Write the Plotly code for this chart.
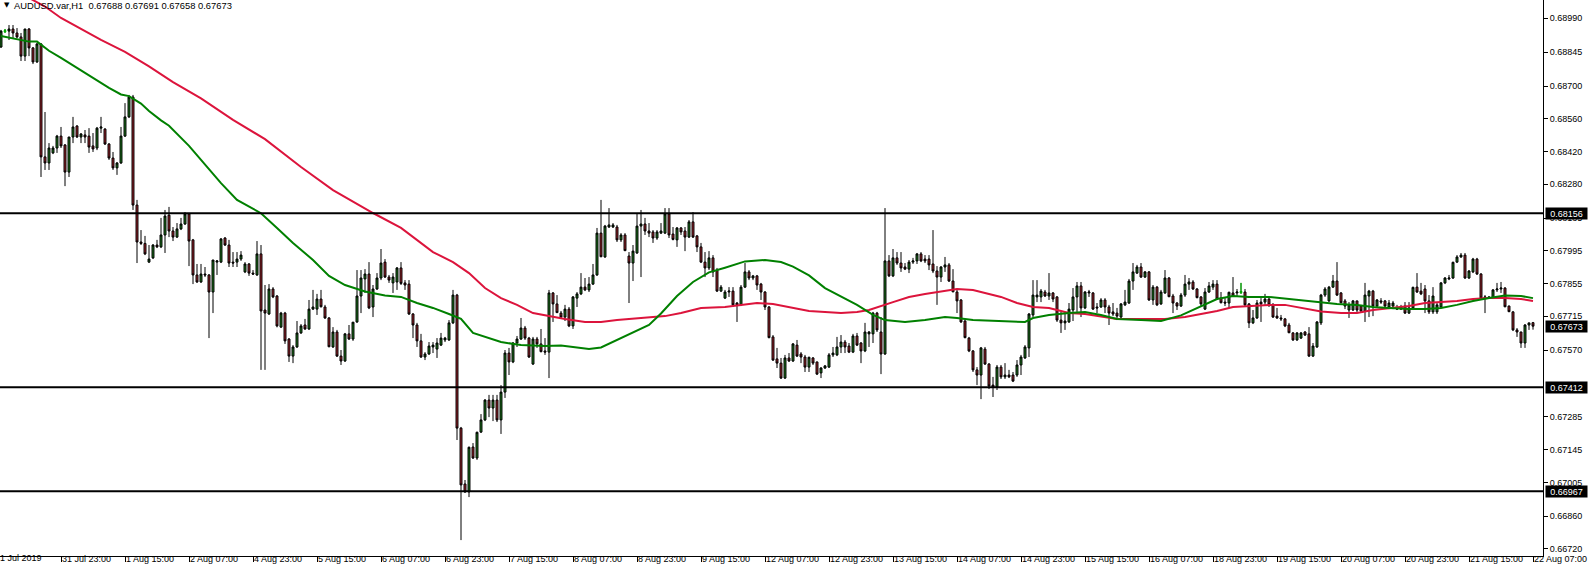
import plotly.graph_objects as go

symbol = "AUDUSD.var,H1"

opens = [
    0.68880, 0.68867, 0.68935, 0.68935, 0.68944, 0.68927, 0.68910, 0.68828, 0.68944, 0.68863,
    0.68803, 0.68880, 0.68397, 0.68371, 0.68414, 0.68435, 0.68486, 0.68448, 0.68332, 0.68482,
    0.68529, 0.68482, 0.68491, 0.68486, 0.68444, 0.68435, 0.68520, 0.68516, 0.68452, 0.68392,
    0.68350, 0.68371, 0.68486, 0.68568, 0.68653, 0.68191, 0.68033, 0.68027, 0.67947, 0.67965,
    0.68020, 0.68012, 0.68063, 0.68148, 0.68080, 0.68054, 0.68089, 0.68110, 0.68153, 0.68042,
    0.67892, 0.67862, 0.67896, 0.67892, 0.67819, 0.67947, 0.67947, 0.68050, 0.68020, 0.67947,
    0.67947, 0.67960, 0.67905, 0.67939, 0.67900, 0.67892, 0.67982, 0.67742, 0.67725, 0.67832,
    0.67802, 0.67669, 0.67729, 0.67618, 0.67545, 0.67584, 0.67644, 0.67678, 0.67661, 0.67746,
    0.67746, 0.67789, 0.67755, 0.67708, 0.67584, 0.67648, 0.67545, 0.67524, 0.67640, 0.67618,
    0.67691, 0.67802, 0.67875, 0.67896, 0.67755, 0.67832, 0.67879, 0.67947, 0.67883, 0.67858,
    0.67862, 0.67922, 0.67858, 0.67853, 0.67725, 0.67678, 0.67610, 0.67541, 0.67554, 0.67584,
    0.67575, 0.67592, 0.67614, 0.67614, 0.67687, 0.67806, 0.67237, 0.66998, 0.66964, 0.67156,
    0.67109, 0.67220, 0.67272, 0.67357, 0.67323, 0.67357, 0.67272, 0.67391, 0.67558, 0.67520,
    0.67601, 0.67618, 0.67665, 0.67622, 0.67511, 0.67618, 0.67597, 0.67567, 0.67562, 0.67815,
    0.67768, 0.67729, 0.67712, 0.67746, 0.67674, 0.67793, 0.67811, 0.67840, 0.67828, 0.67853,
    0.67892, 0.68071, 0.67969, 0.68097, 0.68097, 0.68097, 0.68042, 0.68063, 0.67973, 0.67943,
    0.67986, 0.68101, 0.68110, 0.68080, 0.68076, 0.68050, 0.68071, 0.68071, 0.68153, 0.68067,
    0.68042, 0.68093, 0.68080, 0.68054, 0.68119, 0.68059, 0.68012, 0.67947, 0.67922, 0.67965,
    0.67913, 0.67823, 0.67793, 0.67819, 0.67823, 0.67772, 0.67764, 0.67840, 0.67905, 0.67879,
    0.67888, 0.67853, 0.67819, 0.67755, 0.67627, 0.67533, 0.67515, 0.67451, 0.67537, 0.67524,
    0.67592, 0.67554, 0.67541, 0.67498, 0.67537, 0.67520, 0.67473, 0.67494, 0.67498, 0.67550,
    0.67550, 0.67584, 0.67605, 0.67588, 0.67562, 0.67631, 0.67601, 0.67567, 0.67640, 0.67640,
    0.67729, 0.67648, 0.67554, 0.67952, 0.67888, 0.67965, 0.67943, 0.67926, 0.67917, 0.67947,
    0.67952, 0.67982, 0.67960, 0.67960, 0.67939, 0.67909, 0.67883, 0.67926, 0.67935, 0.67866,
    0.67819, 0.67785, 0.67695, 0.67622, 0.67567, 0.67486, 0.67464, 0.67575, 0.67511, 0.67421,
    0.67413, 0.67498, 0.67456, 0.67464, 0.67464, 0.67464, 0.67507, 0.67537, 0.67580, 0.67721,
    0.67798, 0.67798, 0.67819, 0.67802, 0.67815, 0.67798, 0.67699, 0.67687, 0.67691, 0.67742,
    0.67798, 0.67845, 0.67751, 0.67815, 0.67815, 0.67755, 0.67755, 0.67785, 0.67755, 0.67734,
    0.67729, 0.67712, 0.67764, 0.67772, 0.67866, 0.67900, 0.67926, 0.67883, 0.67905, 0.67785,
    0.67840, 0.67768, 0.67815, 0.67879, 0.67802, 0.67772, 0.67759, 0.67806, 0.67853, 0.67862,
    0.67832, 0.67798, 0.67746, 0.67819, 0.67840, 0.67853, 0.67793, 0.67776, 0.67772, 0.67815,
    0.67815, 0.67819, 0.67819, 0.67768, 0.67687, 0.67708, 0.67776, 0.67776, 0.67789, 0.67764,
    0.67716, 0.67708, 0.67704, 0.67678, 0.67644, 0.67614, 0.67622, 0.67648, 0.67640, 0.67545,
    0.67584, 0.67687, 0.67806, 0.67781, 0.67840, 0.67866, 0.67815, 0.67781, 0.67742, 0.67742,
    0.67781, 0.67759, 0.67738, 0.67802, 0.67823, 0.67759, 0.67781, 0.67781, 0.67755, 0.67759,
    0.67751, 0.67755, 0.67759, 0.67729, 0.67751, 0.67840, 0.67823, 0.67832, 0.67781, 0.67734,
    0.67734, 0.67755, 0.67858, 0.67875, 0.67879, 0.67947, 0.67969, 0.67977, 0.67879, 0.67905,
    0.67960, 0.67896, 0.67793, 0.67798, 0.67793, 0.67828, 0.67832, 0.67836, 0.67759, 0.67734,
    0.67657, 0.67648, 0.67601, 0.67678, 0.67688,
]

highs = [
    0.68940, 0.68940, 0.68944, 0.68961, 0.68961, 0.68948, 0.68927, 0.68944, 0.68948, 0.68867,
    0.68884, 0.68884, 0.68589, 0.68456, 0.68444, 0.68491, 0.68525, 0.68452, 0.68482, 0.68568,
    0.68533, 0.68499, 0.68512, 0.68520, 0.68499, 0.68525, 0.68568, 0.68520, 0.68456, 0.68418,
    0.68375, 0.68525, 0.68627, 0.68662, 0.68662, 0.68213, 0.68084, 0.68059, 0.68020, 0.68024,
    0.68042, 0.68136, 0.68170, 0.68183, 0.68097, 0.68114, 0.68136, 0.68161, 0.68157, 0.68046,
    0.67939, 0.67939, 0.67926, 0.67896, 0.67956, 0.67956, 0.68050, 0.68054, 0.68042, 0.67990,
    0.67990, 0.67994, 0.67947, 0.67943, 0.67913, 0.68037, 0.68020, 0.67849, 0.67853, 0.67840,
    0.67806, 0.67734, 0.67734, 0.67622, 0.67592, 0.67695, 0.67682, 0.67704, 0.67785, 0.67828,
    0.67811, 0.67828, 0.67764, 0.67712, 0.67669, 0.67657, 0.67571, 0.67644, 0.67678, 0.67691,
    0.67913, 0.67913, 0.67917, 0.67947, 0.67849, 0.67900, 0.68003, 0.67960, 0.67892, 0.67900,
    0.67926, 0.67947, 0.67870, 0.67870, 0.67729, 0.67687, 0.67640, 0.67562, 0.67605, 0.67605,
    0.67622, 0.67644, 0.67627, 0.67699, 0.67828, 0.67811, 0.67242, 0.67015, 0.67158, 0.67173,
    0.67222, 0.67297, 0.67361, 0.67379, 0.67379, 0.67379, 0.67421, 0.67571, 0.67580, 0.67605,
    0.67631, 0.67708, 0.67674, 0.67627, 0.67627, 0.67627, 0.67661, 0.67622, 0.67828, 0.67819,
    0.67806, 0.67738, 0.67764, 0.67755, 0.67802, 0.67819, 0.67900, 0.67879, 0.67883, 0.67939,
    0.68093, 0.68213, 0.68106, 0.68178, 0.68114, 0.68106, 0.68071, 0.68071, 0.67990, 0.68020,
    0.68157, 0.68170, 0.68136, 0.68114, 0.68084, 0.68084, 0.68114, 0.68178, 0.68178, 0.68097,
    0.68097, 0.68097, 0.68097, 0.68127, 0.68161, 0.68063, 0.68029, 0.67990, 0.67994, 0.67977,
    0.67922, 0.67849, 0.67828, 0.67840, 0.67840, 0.67776, 0.67849, 0.67943, 0.67913, 0.67892,
    0.67892, 0.67858, 0.67823, 0.67759, 0.67635, 0.67580, 0.67537, 0.67550, 0.67558, 0.67601,
    0.67614, 0.67562, 0.67550, 0.67542, 0.67541, 0.67521, 0.67498, 0.67507, 0.67558, 0.67584,
    0.67627, 0.67635, 0.67614, 0.67601, 0.67640, 0.67644, 0.67605, 0.67687, 0.67652, 0.67734,
    0.67734, 0.67712, 0.68178, 0.67977, 0.68003, 0.67990, 0.67990, 0.67943, 0.67956, 0.67965,
    0.67986, 0.67990, 0.67977, 0.67977, 0.68084, 0.67930, 0.67930, 0.67969, 0.67943, 0.67917,
    0.67832, 0.67789, 0.67699, 0.67627, 0.67571, 0.67498, 0.67584, 0.67584, 0.67515, 0.67456,
    0.67507, 0.67507, 0.67515, 0.67486, 0.67477, 0.67528, 0.67550, 0.67592, 0.67729, 0.67870,
    0.67870, 0.67832, 0.67828, 0.67900, 0.67819, 0.67802, 0.67734, 0.67734, 0.67772, 0.67836,
    0.67862, 0.67862, 0.67823, 0.67828, 0.67819, 0.67772, 0.67793, 0.67793, 0.67764, 0.67772,
    0.67751, 0.67772, 0.67828, 0.67875, 0.67943, 0.67935, 0.67943, 0.67909, 0.67909, 0.67849,
    0.67845, 0.67828, 0.67913, 0.67883, 0.67811, 0.67776, 0.67815, 0.67892, 0.67879, 0.67870,
    0.67836, 0.67802, 0.67836, 0.67862, 0.67870, 0.67870, 0.67819, 0.67793, 0.67820, 0.67883,
    0.67832, 0.67858, 0.67832, 0.67772, 0.67742, 0.67785, 0.67793, 0.67811, 0.67793, 0.67772,
    0.67751, 0.67721, 0.67708, 0.67687, 0.67648, 0.67648, 0.67648, 0.67652, 0.67669, 0.67601,
    0.67695, 0.67811, 0.67840, 0.67845, 0.67892, 0.67947, 0.67819, 0.67789, 0.67776, 0.67785,
    0.67782, 0.67764, 0.67858, 0.67828, 0.67828, 0.67789, 0.67793, 0.67785, 0.67785, 0.67781,
    0.67764, 0.67764, 0.67776, 0.67776, 0.67842, 0.67900, 0.67858, 0.67849, 0.67806, 0.67840,
    0.67776, 0.67862, 0.67883, 0.67892, 0.67949, 0.67977, 0.67986, 0.67986, 0.67913, 0.67965,
    0.67965, 0.67900, 0.67806, 0.67802, 0.67832, 0.67858, 0.67862, 0.67840, 0.67761, 0.67738,
    0.67665, 0.67649, 0.67682, 0.67688, 0.67691,
]

lows = [
    0.68863, 0.68863, 0.68927, 0.68897, 0.68905, 0.68905, 0.68807, 0.68807, 0.68828, 0.68794,
    0.68799, 0.68311, 0.68341, 0.68341, 0.68409, 0.68414, 0.68435, 0.68272, 0.68311, 0.68456,
    0.68478, 0.68456, 0.68456, 0.68414, 0.68418, 0.68426, 0.68499, 0.68448, 0.68384, 0.68341,
    0.68320, 0.68367, 0.68482, 0.68563, 0.68170, 0.67943, 0.68020, 0.67977, 0.67943, 0.67960,
    0.68007, 0.68007, 0.67986, 0.68054, 0.68037, 0.68050, 0.68084, 0.68106, 0.67930, 0.67853,
    0.67858, 0.67858, 0.67883, 0.67622, 0.67729, 0.67892, 0.67943, 0.68016, 0.67926, 0.67926,
    0.67926, 0.67952, 0.67900, 0.67888, 0.67892, 0.67888, 0.67486, 0.67486, 0.67721, 0.67793,
    0.67668, 0.67665, 0.67597, 0.67520, 0.67515, 0.67580, 0.67640, 0.67657, 0.67657, 0.67742,
    0.67721, 0.67753, 0.67704, 0.67583, 0.67580, 0.67541, 0.67507, 0.67520, 0.67614, 0.67610,
    0.67687, 0.67729, 0.67815, 0.67746, 0.67712, 0.67828, 0.67870, 0.67879, 0.67858, 0.67815,
    0.67828, 0.67849, 0.67828, 0.67721, 0.67622, 0.67584, 0.67537, 0.67528, 0.67550, 0.67558,
    0.67537, 0.67588, 0.67605, 0.67610, 0.67682, 0.67186, 0.66758, 0.66960, 0.66942, 0.67105,
    0.67101, 0.67216, 0.67267, 0.67284, 0.67267, 0.67263, 0.67212, 0.67366, 0.67464, 0.67515,
    0.67584, 0.67614, 0.67614, 0.67537, 0.67507, 0.67580, 0.67561, 0.67550, 0.67451, 0.67691,
    0.67729, 0.67708, 0.67695, 0.67669, 0.67661, 0.67755, 0.67806, 0.67823, 0.67819, 0.67849,
    0.67888, 0.67968, 0.67965, 0.68093, 0.68093, 0.68033, 0.68033, 0.67994, 0.67772, 0.67866,
    0.67982, 0.67883, 0.68063, 0.68054, 0.68029, 0.68042, 0.68067, 0.68067, 0.68050, 0.68040,
    0.68012, 0.68063, 0.67994, 0.68050, 0.68050, 0.67990, 0.67943, 0.67883, 0.67913, 0.67883,
    0.67819, 0.67819, 0.67789, 0.67798, 0.67755, 0.67691, 0.67759, 0.67836, 0.67870, 0.67870,
    0.67828, 0.67785, 0.67742, 0.67621, 0.67524, 0.67494, 0.67447, 0.67447, 0.67520, 0.67520,
    0.67541, 0.67515, 0.67477, 0.67477, 0.67507, 0.67464, 0.67451, 0.67490, 0.67494, 0.67541,
    0.67545, 0.67558, 0.67558, 0.67558, 0.67558, 0.67588, 0.67515, 0.67562, 0.67584, 0.67601,
    0.67648, 0.67468, 0.67550, 0.67883, 0.67883, 0.67935, 0.67905, 0.67913, 0.67900, 0.67939,
    0.67939, 0.67947, 0.67943, 0.67913, 0.67900, 0.67764, 0.67862, 0.67905, 0.67862, 0.67818,
    0.67729, 0.67687, 0.67621, 0.67562, 0.67477, 0.67421, 0.67361, 0.67507, 0.67404, 0.67370,
    0.67400, 0.67447, 0.67447, 0.67451, 0.67434, 0.67456, 0.67464, 0.67533, 0.67541, 0.67712,
    0.67776, 0.67776, 0.67798, 0.67785, 0.67776, 0.67691, 0.67644, 0.67657, 0.67687, 0.67695,
    0.67734, 0.67712, 0.67746, 0.67798, 0.67742, 0.67729, 0.67751, 0.67729, 0.67678, 0.67716,
    0.67699, 0.67708, 0.67759, 0.67768, 0.67828, 0.67896, 0.67879, 0.67879, 0.67781, 0.67764,
    0.67759, 0.67764, 0.67811, 0.67797, 0.67729, 0.67742, 0.67755, 0.67798, 0.67828, 0.67828,
    0.67792, 0.67755, 0.67742, 0.67815, 0.67828, 0.67785, 0.67771, 0.67759, 0.67751, 0.67798,
    0.67798, 0.67811, 0.67755, 0.67665, 0.67682, 0.67704, 0.67691, 0.67764, 0.67755, 0.67708,
    0.67704, 0.67695, 0.67669, 0.67643, 0.67610, 0.67610, 0.67618, 0.67631, 0.67541, 0.67541,
    0.67580, 0.67678, 0.67798, 0.67776, 0.67836, 0.67802, 0.67771, 0.67746, 0.67708, 0.67738,
    0.67729, 0.67734, 0.67691, 0.67712, 0.67716, 0.67751, 0.67768, 0.67755, 0.67746, 0.67746,
    0.67742, 0.67742, 0.67725, 0.67725, 0.67742, 0.67815, 0.67806, 0.67729, 0.67725, 0.67725,
    0.67725, 0.67751, 0.67853, 0.67870, 0.67875, 0.67943, 0.67965, 0.67875, 0.67875, 0.67900,
    0.67892, 0.67789, 0.67729, 0.67789, 0.67789, 0.67819, 0.67815, 0.67754, 0.67733, 0.67652,
    0.67627, 0.67580, 0.67580, 0.67657, 0.67658,
]

closes = [
    0.68867, 0.68935, 0.68935, 0.68944, 0.68927, 0.68910, 0.68828, 0.68944, 0.68863, 0.68803,
    0.68880, 0.68397, 0.68371, 0.68435, 0.68435, 0.68486, 0.68444, 0.68332, 0.68482, 0.68525,
    0.68482, 0.68495, 0.68482, 0.68439, 0.68431, 0.68520, 0.68525, 0.68452, 0.68392, 0.68350,
    0.68371, 0.68486, 0.68568, 0.68653, 0.68191, 0.68033, 0.68027, 0.67982, 0.67960, 0.68020,
    0.68012, 0.68063, 0.68144, 0.68080, 0.68054, 0.68089, 0.68110, 0.68153, 0.68037, 0.67892,
    0.67862, 0.67896, 0.67892, 0.67819, 0.67956, 0.67952, 0.68046, 0.68020, 0.67943, 0.67943,
    0.67960, 0.67977, 0.67939, 0.67900, 0.67896, 0.67982, 0.67738, 0.67729, 0.67832, 0.67798,
    0.67674, 0.67729, 0.67610, 0.67545, 0.67584, 0.67644, 0.67674, 0.67661, 0.67746, 0.67755,
    0.67789, 0.67756, 0.67708, 0.67585, 0.67648, 0.67545, 0.67524, 0.67640, 0.67618, 0.67690,
    0.67802, 0.67879, 0.67896, 0.67751, 0.67832, 0.67879, 0.67943, 0.67883, 0.67870, 0.67883,
    0.67922, 0.67856, 0.67849, 0.67725, 0.67678, 0.67610, 0.67541, 0.67554, 0.67588, 0.67592,
    0.67601, 0.67622, 0.67622, 0.67687, 0.67806, 0.67237, 0.66994, 0.66964, 0.67155, 0.67109,
    0.67219, 0.67272, 0.67357, 0.67323, 0.67357, 0.67272, 0.67391, 0.67558, 0.67520, 0.67601,
    0.67618, 0.67665, 0.67622, 0.67541, 0.67618, 0.67597, 0.67564, 0.67562, 0.67815, 0.67768,
    0.67731, 0.67712, 0.67746, 0.67674, 0.67798, 0.67811, 0.67840, 0.67828, 0.67853, 0.67892,
    0.68071, 0.67970, 0.68101, 0.68106, 0.68106, 0.68042, 0.68063, 0.67996, 0.67943, 0.67994,
    0.68101, 0.68110, 0.68080, 0.68071, 0.68050, 0.68076, 0.68080, 0.68153, 0.68063, 0.68044,
    0.68093, 0.68076, 0.68054, 0.68119, 0.68054, 0.68012, 0.67947, 0.67922, 0.67965, 0.67905,
    0.67823, 0.67840, 0.67819, 0.67823, 0.67764, 0.67764, 0.67840, 0.67905, 0.67879, 0.67888,
    0.67849, 0.67819, 0.67755, 0.67624, 0.67528, 0.67515, 0.67451, 0.67537, 0.67524, 0.67597,
    0.67545, 0.67541, 0.67498, 0.67540, 0.67515, 0.67468, 0.67494, 0.67503, 0.67550, 0.67558,
    0.67584, 0.67605, 0.67584, 0.67562, 0.67631, 0.67592, 0.67567, 0.67648, 0.67648, 0.67729,
    0.67657, 0.67554, 0.67952, 0.67888, 0.67965, 0.67943, 0.67922, 0.67917, 0.67947, 0.67952,
    0.67982, 0.67952, 0.67952, 0.67935, 0.67909, 0.67883, 0.67926, 0.67935, 0.67866, 0.67820,
    0.67781, 0.67691, 0.67624, 0.67567, 0.67486, 0.67464, 0.67580, 0.67511, 0.67417, 0.67413,
    0.67498, 0.67456, 0.67464, 0.67456, 0.67438, 0.67507, 0.67541, 0.67584, 0.67725, 0.67806,
    0.67806, 0.67823, 0.67802, 0.67815, 0.67789, 0.67699, 0.67687, 0.67695, 0.67746, 0.67798,
    0.67845, 0.67751, 0.67819, 0.67819, 0.67746, 0.67751, 0.67785, 0.67755, 0.67729, 0.67725,
    0.67716, 0.67768, 0.67776, 0.67866, 0.67905, 0.67926, 0.67883, 0.67905, 0.67785, 0.67840,
    0.67764, 0.67819, 0.67879, 0.67799, 0.67772, 0.67759, 0.67806, 0.67853, 0.67862, 0.67832,
    0.67795, 0.67768, 0.67819, 0.67845, 0.67853, 0.67789, 0.67773, 0.67772, 0.67818, 0.67802,
    0.67819, 0.67819, 0.67764, 0.67687, 0.67708, 0.67772, 0.67768, 0.67789, 0.67764, 0.67712,
    0.67708, 0.67704, 0.67674, 0.67645, 0.67614, 0.67644, 0.67644, 0.67635, 0.67545, 0.67588,
    0.67691, 0.67806, 0.67832, 0.67840, 0.67866, 0.67806, 0.67773, 0.67759, 0.67764, 0.67781,
    0.67742, 0.67738, 0.67806, 0.67823, 0.67759, 0.67785, 0.67776, 0.67759, 0.67772, 0.67772,
    0.67746, 0.67746, 0.67729, 0.67751, 0.67839, 0.67819, 0.67811, 0.67781, 0.67734, 0.67802,
    0.67764, 0.67858, 0.67879, 0.67879, 0.67946, 0.67969, 0.67977, 0.67879, 0.67909, 0.67960,
    0.67896, 0.67793, 0.67798, 0.67793, 0.67828, 0.67832, 0.67836, 0.67756, 0.67735, 0.67657,
    0.67648, 0.67601, 0.67678, 0.67687, 0.67673,
]

tick_labels = [
    "31 Jul 2019", "31 Jul 23:00", "1 Aug 15:00", "2 Aug 07:00", "4 Aug 23:00",
    "5 Aug 15:00", "6 Aug 07:00", "6 Aug 23:00", "7 Aug 15:00", "8 Aug 07:00",
    "8 Aug 23:00", "9 Aug 15:00", "12 Aug 07:00", "12 Aug 23:00", "13 Aug 15:00",
    "14 Aug 07:00", "14 Aug 23:00", "15 Aug 15:00", "16 Aug 07:00", "18 Aug 23:00",
    "19 Aug 15:00", "20 Aug 07:00", "20 Aug 23:00", "21 Aug 15:00", "22 Aug 07:00",
]
tick_step = 16

# green (fast) moving average, read at selected bars
ma_fast_bars = [1, 5, 8, 10, 12, 13, 16, 21, 23, 28, 31, 33, 36, 38, 41, 43, 48, 52, 56, 60,
                62, 66, 70, 74, 79, 83, 87, 92, 97, 101, 105, 109, 113, 116, 119, 123, 126, 131, 137, 141,
                145, 148, 151, 155, 159, 163, 166, 170, 174, 178, 182, 187, 192, 196, 199, 203, 207, 211, 215, 219,
                222, 227, 232, 237, 240, 244, 251, 257, 259, 263, 268, 272, 276, 280, 286, 291, 296, 301, 305, 309,
                313, 318, 322, 326, 330, 335, 340, 344, 348, 353, 357, 361, 365, 369, 373, 377, 381, 384]
ma_fast_vals = [0.68914, 0.68901, 0.68890, 0.68890, 0.68865, 0.68851, 0.68820, 0.68766, 0.68743, 0.68692,
                0.68664, 0.68657, 0.68625, 0.68593, 0.68553, 0.68530, 0.68444, 0.68364, 0.68285, 0.68213,
                0.68193, 0.68156, 0.68093, 0.68029, 0.67956, 0.67888, 0.67849, 0.67821, 0.67804, 0.67798,
                0.67772, 0.67751, 0.67725, 0.67704, 0.67644, 0.67622, 0.67605, 0.67592, 0.67588, 0.67590,
                0.67582, 0.67575, 0.67582, 0.67614, 0.67648, 0.67678, 0.67727, 0.67802, 0.67862, 0.67903,
                0.67923, 0.67950, 0.67956, 0.67947, 0.67928, 0.67890, 0.67836, 0.67800, 0.67764, 0.67721,
                0.67699, 0.67691, 0.67699, 0.67712, 0.67708, 0.67699, 0.67695, 0.67691, 0.67708, 0.67721,
                0.67729, 0.67734, 0.67721, 0.67704, 0.67699, 0.67695, 0.67719, 0.67757, 0.67789, 0.67802,
                0.67798, 0.67798, 0.67791, 0.67781, 0.67774, 0.67768, 0.67764, 0.67755, 0.67751, 0.67746,
                0.67746, 0.67751, 0.67764, 0.67781, 0.67793, 0.67804, 0.67802, 0.67793]

# red (slow) moving average, read at selected bars
ma_slow_bars = [8, 12, 16, 21, 26, 32, 38, 44, 51, 59, 67, 76, 84, 94, 101, 109, 114, 118, 122, 126,
                130, 134, 138, 142, 147, 151, 155, 159, 163, 167, 171, 176, 182, 190, 194, 198, 203, 207, 211, 215,
                218, 224, 228, 232, 236, 240, 244, 248, 251, 255, 259, 263, 268, 272, 276, 280, 284, 288, 292, 297,
                301, 305, 309, 313, 318, 322, 326, 331, 336, 340, 344, 348, 353, 357, 361, 365, 369, 373, 377, 381,
                384]
ma_slow_vals = [0.69077, 0.69040, 0.68991, 0.68944, 0.68897, 0.68846, 0.68784, 0.68717, 0.68647, 0.68555,
                0.68473, 0.68354, 0.68255, 0.68157, 0.68093, 0.67990, 0.67947, 0.67900, 0.67836, 0.67793,
                0.67764, 0.67729, 0.67716, 0.67704, 0.67691, 0.67691, 0.67699, 0.67704, 0.67708, 0.67716,
                0.67729, 0.67751, 0.67755, 0.67772, 0.67768, 0.67755, 0.67738, 0.67734, 0.67729, 0.67734,
                0.67742, 0.67776, 0.67798, 0.67811, 0.67823, 0.67832, 0.67828, 0.67811, 0.67798, 0.67772,
                0.67755, 0.67751, 0.67729, 0.67725, 0.67716, 0.67704, 0.67704, 0.67704, 0.67704, 0.67712,
                0.67725, 0.67738, 0.67755, 0.67759, 0.67764, 0.67764, 0.67751, 0.67736, 0.67729, 0.67729,
                0.67742, 0.67751, 0.67759, 0.67772, 0.67776, 0.67781, 0.67789, 0.67793, 0.67793, 0.67789,
                0.67781]

levels = [0.68156, 0.67412, 0.66967]
y_ticks = [0.68990, 0.68845, 0.68700, 0.68560, 0.68420, 0.68280, 0.68135, 0.67995, 0.67855,
           0.67715, 0.67570, 0.67285, 0.67145, 0.67005, 0.66860, 0.66720]

# ---------------- styling ----------------
W, H = 1591, 570
PLOT_W = 1543
PLOT_H = 556
FONT = "Liberation Sans, Arial, sans-serif"
BULL = "#1b7d1b"
BEAR = "#a8242c"
FAST_C = "#008000"
SLOW_C = "#dc143c"

bars = list(range(len(opens)))
px_per_bar = 4.0
x_start = 0.75
x_range = [x_start, x_start + PLOT_W / px_per_bar]
y_range = [0.66690, 0.69068]

fig = go.Figure()
fig.add_trace(go.Candlestick(
    x=bars, open=opens, high=highs, low=lows, close=closes,
    increasing=dict(fillcolor=BULL, line=dict(color="black", width=1)),
    decreasing=dict(fillcolor=BEAR, line=dict(color="black", width=1)),
    whiskerwidth=0, showlegend=False,
))

# doji bars drawn as lime crosses
dx, dy = [], []
for i in bars:
    if opens[i] == closes[i]:
        dx += [i - 0.4, i + 0.4, None, i, i, None]
        dy += [opens[i], opens[i], None, highs[i], lows[i], None]
if dx:
    fig.add_trace(go.Scatter(x=dx, y=dy, mode="lines", line=dict(color="#00e000", width=1),
                             showlegend=False, hoverinfo="skip"))

fig.add_trace(go.Scatter(x=ma_slow_bars, y=ma_slow_vals, mode="lines",
                         line=dict(color=SLOW_C, width=2), showlegend=False, hoverinfo="skip"))
fig.add_trace(go.Scatter(x=ma_fast_bars, y=ma_fast_vals, mode="lines",
                         line=dict(color=FAST_C, width=2), showlegend=False, hoverinfo="skip"))

for lv in levels:
    fig.add_shape(type="line", xref="paper", x0=0, x1=1, yref="y", y0=lv, y1=lv,
                  line=dict(color="black", width=2), layer="above")

annotations = []
for lv in levels + [closes[-1]]:
    annotations.append(dict(
        xref="paper", x=1, xanchor="left", xshift=2, yref="y", y=lv, yanchor="middle",
        text=f"{lv:.5f}", showarrow=False, bgcolor="black", borderpad=0,
        width=41, height=11, align="center",
        font=dict(family=FONT, size=9, color="white"),
    ))

annotations.append(dict(
    xref="paper", x=2 / PLOT_W, xanchor="left", yref="paper", y=1, yanchor="top", yshift=1,
    text="\u25BC", showarrow=False, font=dict(family="DejaVu Sans", size=7, color="black"),
))
annotations.append(dict(
    xref="paper", x=12 / PLOT_W, xanchor="left", yref="paper", y=1, yanchor="top", yshift=2,
    text=f"{symbol}\u00a0\u00a0{opens[-1]:.5f} {highs[-1]:.5f} {lows[-1]:.5f} {closes[-1]:.5f}",
    showarrow=False, font=dict(family=FONT, size=9.4, color="black"),
))
# first date label sits at bar 0, just left of the visible range
annotations.append(dict(
    xref="paper", x=(0 - x_start) * px_per_bar / PLOT_W, xanchor="left", xshift=-3,
    yref="paper", y=0, yanchor="top", yshift=4, borderpad=0,
    text=tick_labels[0], showarrow=False, font=dict(family=FONT, size=9, color="black"),
))

tick_vals = [i * tick_step for i in range(1, len(tick_labels))]

fig.update_layout(
    width=W, height=H, autosize=False,
    margin=dict(l=0, r=W - PLOT_W, t=0, b=H - PLOT_H),
    paper_bgcolor="white", plot_bgcolor="white",
    font=dict(family=FONT, size=9, color="black"),
    annotations=annotations,
    hovermode=False,
    xaxis=dict(
        range=x_range, rangeslider=dict(visible=False), showgrid=False, zeroline=False,
        showline=True, linecolor="black", linewidth=1,
        tickmode="array", tickvals=tick_vals, ticktext=tick_labels[1:],
        ticks="outside", ticklen=5, tickcolor="black", tickwidth=1,
        ticklabelposition="outside right", ticklabelstandoff=-6,
        tickfont=dict(family=FONT, size=9, color="black"),
        fixedrange=True,
    ),
    yaxis=dict(
        range=y_range, side="right", showgrid=False, zeroline=False,
        showline=True, linecolor="black", linewidth=1,
        tickmode="array", tickvals=y_ticks, ticktext=[f"{v:.5f}" for v in y_ticks],
        ticks="outside", ticklen=4, tickcolor="black", tickwidth=1,
        tickfont=dict(family=FONT, size=9, color="black"),
        fixedrange=True,
    ),
)

fig.write_html(
    "out.html",
    config={"displayModeBar": False, "staticPlot": True},
    post_script="document.body.style.margin='0';document.body.style.overflow='hidden';",
)
